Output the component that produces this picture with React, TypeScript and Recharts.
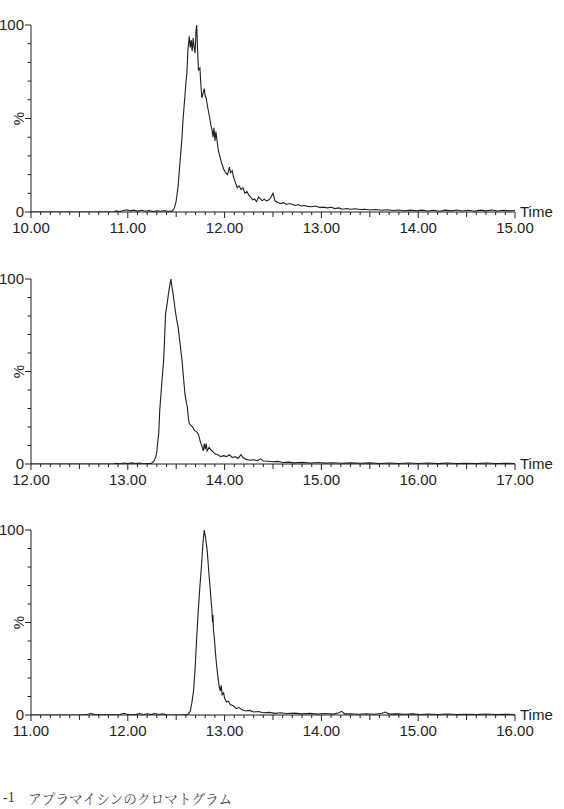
import React from 'react';
import { LineChart, Line, XAxis, YAxis } from 'recharts';

// Chromatogram 1: time (min), relative intensity (%)
const trace1: [number, number][] = [
  [10.0, 0], [10.5, 0], [10.85, 0], [10.88, 0.6], [10.92, 0.3], [10.96, 0.9], [11.0, 1.1], [11.03, 0.6],
  [11.06, 1.0], [11.1, 0.5], [11.14, 0.9], [11.18, 0.4], [11.22, 0.8], [11.26, 0.3], [11.3, 0.7], [11.34, 0.4],
  [11.38, 0.8], [11.42, 0.3], [11.46, 0.6], [11.48, 2], [11.5, 6], [11.52, 14], [11.54, 27], [11.56, 40],
  [11.57, 49], [11.59, 62], [11.6, 69], [11.61, 74], [11.62, 86], [11.635, 94], [11.645, 88], [11.655, 92],
  [11.665, 86], [11.675, 93], [11.685, 88], [11.695, 85], [11.705, 97], [11.712, 100], [11.72, 88], [11.73, 76],
  [11.745, 77], [11.755, 68], [11.765, 61], [11.78, 64], [11.79, 66], [11.8, 62], [11.81, 61], [11.825, 56],
  [11.84, 52], [11.86, 46], [11.87, 44], [11.88, 40], [11.89, 45], [11.9, 38], [11.91, 43], [11.925, 37],
  [11.935, 33], [11.95, 30], [11.97, 26], [11.99, 23], [12.01, 21], [12.03, 20], [12.05, 24], [12.06, 21],
  [12.08, 22], [12.09, 19], [12.11, 16], [12.13, 13], [12.15, 14], [12.17, 12], [12.19, 13], [12.21, 10],
  [12.23, 11], [12.25, 9], [12.27, 8], [12.29, 6.5], [12.31, 7], [12.33, 5.5], [12.35, 8], [12.37, 7],
  [12.39, 6], [12.41, 7], [12.43, 6], [12.46, 6.5], [12.48, 8], [12.5, 10], [12.52, 6], [12.555, 5],
  [12.58, 4.5], [12.61, 5], [12.64, 4], [12.67, 4.5], [12.7, 4], [12.73, 3.5], [12.76, 4], [12.79, 3.2],
  [12.83, 3.5], [12.86, 3], [12.9, 2.8], [12.94, 3.2], [12.98, 2.4], [13.02, 2.6], [13.06, 2.2], [13.1, 2.5],
  [13.14, 1.8], [13.18, 2.2], [13.22, 1.5], [13.26, 1.9], [13.3, 1.5], [13.35, 1.7], [13.4, 1.3], [13.45, 1.5],
  [13.5, 1.1], [13.56, 1.3], [13.62, 0.9], [13.68, 1.2], [13.74, 0.8], [13.8, 1.1], [13.86, 0.7], [13.92, 1.0],
  [13.98, 0.6], [14.04, 1.0], [14.1, 0.5], [14.16, 0.9], [14.22, 0.4], [14.28, 1.0], [14.34, 0.6], [14.4, 1.1],
  [14.46, 0.5], [14.52, 0.9], [14.58, 0.4], [14.64, 1.0], [14.7, 0.6], [14.76, 1.1], [14.82, 0.5], [14.88, 0.9],
  [14.94, 0.6], [15.0, 0.8],
];

// Chromatogram 2
const trace2: [number, number][] = [
  [12.0, 0], [12.5, 0], [12.85, 0], [12.88, 0.4], [12.92, 0.1], [12.96, 0.5], [13.0, 0.2], [13.04, 0.6],
  [13.08, 0.2], [13.12, 0.5], [13.16, 0.1], [13.2, 0.3], [13.24, 0.2], [13.27, 1.5], [13.29, 4], [13.3, 7],
  [13.32, 17], [13.33, 29], [13.35, 43], [13.37, 56], [13.38, 68], [13.39, 81], [13.41, 88], [13.42, 92],
  [13.435, 97], [13.445, 100], [13.455, 96], [13.465, 93], [13.48, 87], [13.49, 83], [13.505, 78], [13.52, 74],
  [13.54, 65], [13.56, 56], [13.575, 47], [13.59, 38], [13.605, 33], [13.615, 31], [13.625, 25], [13.635, 22],
  [13.65, 21], [13.67, 20], [13.69, 18], [13.71, 17.5], [13.73, 16], [13.75, 12], [13.77, 9], [13.78, 7],
  [13.79, 11], [13.8, 8], [13.81, 11], [13.82, 7], [13.84, 9], [13.86, 7.5], [13.88, 6.5], [13.9, 5.5],
  [13.93, 5], [13.96, 4], [13.99, 4.5], [14.02, 4], [14.05, 5], [14.08, 3.5], [14.11, 4], [14.14, 3],
  [14.17, 5], [14.19, 3.5], [14.22, 2.5], [14.26, 2], [14.3, 2.3], [14.34, 1.8], [14.37, 2.8], [14.4, 1.6],
  [14.45, 1.5], [14.5, 1.2], [14.55, 1.4], [14.6, 0.8], [14.66, 1.0], [14.72, 0.6], [14.8, 0.9], [14.88, 0.5],
  [14.96, 0.8], [15.04, 0.5], [15.12, 0.7], [15.2, 0.4], [15.3, 0.6], [15.4, 0.4], [15.5, 0.6], [15.6, 0.3],
  [15.7, 0.5], [15.8, 0.3], [15.9, 0.5], [16.0, 0.3], [16.1, 0.5], [16.2, 0.2], [16.3, 0.5], [16.4, 0.3],
  [16.5, 0.4], [16.6, 0.2], [16.7, 0.5], [16.8, 0.3], [16.9, 0.4], [17.0, 0.3],
];

// Chromatogram 3
const trace3: [number, number][] = [
  [11.0, 0], [11.5, 0], [11.58, 0.3], [11.62, 0.8], [11.66, 0.2], [11.8, 0.1], [11.92, 0.3], [11.96, 0.9],
  [12.0, 0.3], [12.08, 0.2], [12.12, 0.8], [12.16, 0.3], [12.2, 0.7], [12.24, 0.2], [12.28, 0.8], [12.32, 0.3],
  [12.36, 0.7], [12.4, 0.1], [12.5, 0], [12.62, 0.2], [12.645, 2], [12.66, 6], [12.68, 13.5], [12.695, 25],
  [12.71, 40], [12.725, 54], [12.74, 66], [12.75, 73], [12.76, 80], [12.77, 88], [12.78, 95], [12.79, 100],
  [12.795, 98], [12.8, 97], [12.81, 93], [12.82, 89], [12.83, 82], [12.84, 75], [12.85, 69], [12.86, 62],
  [12.87, 56], [12.875, 50], [12.88, 54], [12.885, 46], [12.895, 41], [12.905, 34], [12.915, 28], [12.93, 21],
  [12.945, 15], [12.955, 13], [12.965, 16], [12.975, 11], [12.99, 12], [13.0, 9], [13.02, 7], [13.04, 7.5],
  [13.06, 5.5], [13.09, 5], [13.12, 3.5], [13.15, 4], [13.18, 2.8], [13.22, 2.2], [13.26, 2.5], [13.3, 1.6],
  [13.35, 1.9], [13.4, 1.2], [13.46, 1.4], [13.52, 0.9], [13.58, 1.2], [13.64, 0.8], [13.72, 1.0], [13.8, 0.6],
  [13.88, 0.9], [13.96, 0.5], [14.04, 0.8], [14.12, 0.5], [14.18, 1.2], [14.21, 2], [14.24, 0.6], [14.3, 0.7],
  [14.38, 0.4], [14.46, 0.7], [14.54, 0.4], [14.62, 0.8], [14.66, 1.6], [14.7, 0.5], [14.78, 0.6], [14.86, 0.4],
  [14.94, 0.6], [15.02, 0.3], [15.1, 0.5], [15.2, 0.3], [15.3, 0.5], [15.4, 0.3], [15.5, 0.4], [15.6, 0.2],
  [15.7, 0.5], [15.8, 0.3], [15.9, 0.4], [16.0, 0.3],
];

const xLabels1 = ['10.00', '11.00', '12.00', '13.00', '14.00', '15.00'];
const xLabels2 = ['12.00', '13.00', '14.00', '15.00', '16.00', '17.00'];
const xLabels3 = ['11.00', '12.00', '13.00', '14.00', '15.00', '16.00'];
const yTickValues = [0, 10, 20, 30, 40, 50, 60, 70, 80, 90, 100];
const yLabels: Record<number, string> = { 0: '0', 100: '100' };
const yTitle = '%';
const xTitle = 'Time';
const captionPrefix = '-1';
const captionText = 'アプラマイシンのクロマトグラム';

const FONT = '"Liberation Sans", Arial, sans-serif';
const INK = '#1e1e1e';

function minorTicks(labels: string[]): number[] {
  const start = parseFloat(labels[0]);
  const end = parseFloat(labels[labels.length - 1]);
  const n = Math.round((end - start) * 10);
  const out: number[] = [];
  for (let i = 0; i <= n; i++) out.push(Math.round((start + i / 10) * 100) / 100);
  return out;
}

function XTick(props: any) {
  const { x, y, payload, labels } = props;
  const v: number = payload.value;
  const r = Math.round(v * 10);
  const isMajor = r % 10 === 0;
  const isHalf = r % 5 === 0;
  const len = isMajor ? 6 : isHalf ? 5 : 3;
  const label = (labels as string[]).find((l) => Math.abs(parseFloat(l) - v) < 1e-6);
  const last = parseFloat(labels[labels.length - 1]);
  return (
    <g>
      <line x1={x} x2={x} y1={y} y2={y + len} stroke={INK} strokeWidth={1} />
      {label && (
        <text x={x} y={y + 21} textAnchor="middle" fontSize={15} fontFamily={FONT} fill={INK}>
          {label}
        </text>
      )}
      {Math.abs(v - last) < 1e-6 && (
        <text x={x + 5} y={y + 5} textAnchor="start" fontSize={15} fontFamily={FONT} fill={INK}>
          {xTitle}
        </text>
      )}
    </g>
  );
}

function YTick(props: any) {
  const { x, y, payload } = props;
  const v: number = payload.value;
  const major = v === 0 || v === 100 || v === 50;
  const len = major ? 6 : 3.5;
  const label = yLabels[v];
  return (
    <g>
      <line x1={x - len} x2={x} y1={y} y2={y} stroke={INK} strokeWidth={1} />
      {label && (
        <text x={x - 7} y={y + 5} textAnchor="end" fontSize={15} fontFamily={FONT} fill={INK}>
          {label}
        </text>
      )}
      {v === 50 && (
        <text
          x={x - 13}
          y={y}
          textAnchor="middle"
          dominantBaseline="central"
          fontSize={15}
          fontFamily={FONT}
          fill={INK}
          transform={`rotate(-90 ${x - 13} ${y})`}
        >
          {yTitle}
        </text>
      )}
    </g>
  );
}

function Panel({ trace, labels, top, plotH }: { trace: [number, number][]; labels: string[]; top: number; plotH: number }) {
  const data = trace.map(([t, v]) => ({ t, v }));
  const ticks = minorTicks(labels);
  const start = parseFloat(labels[0]);
  const end = parseFloat(labels[labels.length - 1]);
  return (
    <div style={{ position: 'absolute', left: 0, top }}>
      <LineChart width={564} height={25 + plotH + 30} data={data} margin={{ top: 25, right: 49, bottom: 0, left: 0 }}>
        <XAxis
          dataKey="t"
          type="number"
          domain={[start, end]}
          ticks={ticks}
          interval={0}
          tickSize={0}
          tickMargin={0}
          tickLine={false}
          height={30}
          axisLine={{ stroke: INK, strokeWidth: 1 }}
          tick={(p: any) => <XTick {...p} labels={labels} />}
          allowDataOverflow
        />
        <YAxis
          type="number"
          domain={[0, 100]}
          ticks={yTickValues}
          interval={0}
          width={31}
          tickSize={0}
          tickMargin={0}
          tickLine={false}
          axisLine={{ stroke: INK, strokeWidth: 1 }}
          tick={(p: any) => <YTick {...p} />}
          allowDataOverflow
        />
        <Line
          dataKey="v"
          type="linear"
          stroke={INK}
          strokeWidth={1.1}
          dot={false}
          activeDot={false}
          isAnimationActive={false}
        />
      </LineChart>
    </div>
  );
}

export default function App() {
  return (
    <div style={{ position: 'absolute', left: 0, top: 0, width: 564, height: 809, background: '#fff', overflow: 'hidden' }}>
      <Panel trace={trace1} labels={xLabels1} top={0} plotH={187} />
      <Panel trace={trace2} labels={xLabels2} top={254} plotH={185} />
      <Panel trace={trace3} labels={xLabels3} top={505} plotH={185} />
      <div
        style={{
          position: 'absolute',
          left: 3,
          top: 790,
          lineHeight: '16px',
          fontSize: 14,
          color: '#333',
          whiteSpace: 'nowrap',
          fontFamily: '"Liberation Serif", "Noto Serif CJK JP", "Noto Sans CJK JP", serif',
        }}
      >
        <span>{captionPrefix}</span>
        <span style={{ position: 'absolute', left: 25, top: 0, fontSize: 13.7, fontWeight: 300, fontFamily: '"Noto Serif CJK JP", "Noto Sans CJK JP", serif' }}>
          {captionText}
        </span>
      </div>
    </div>
  );
}
